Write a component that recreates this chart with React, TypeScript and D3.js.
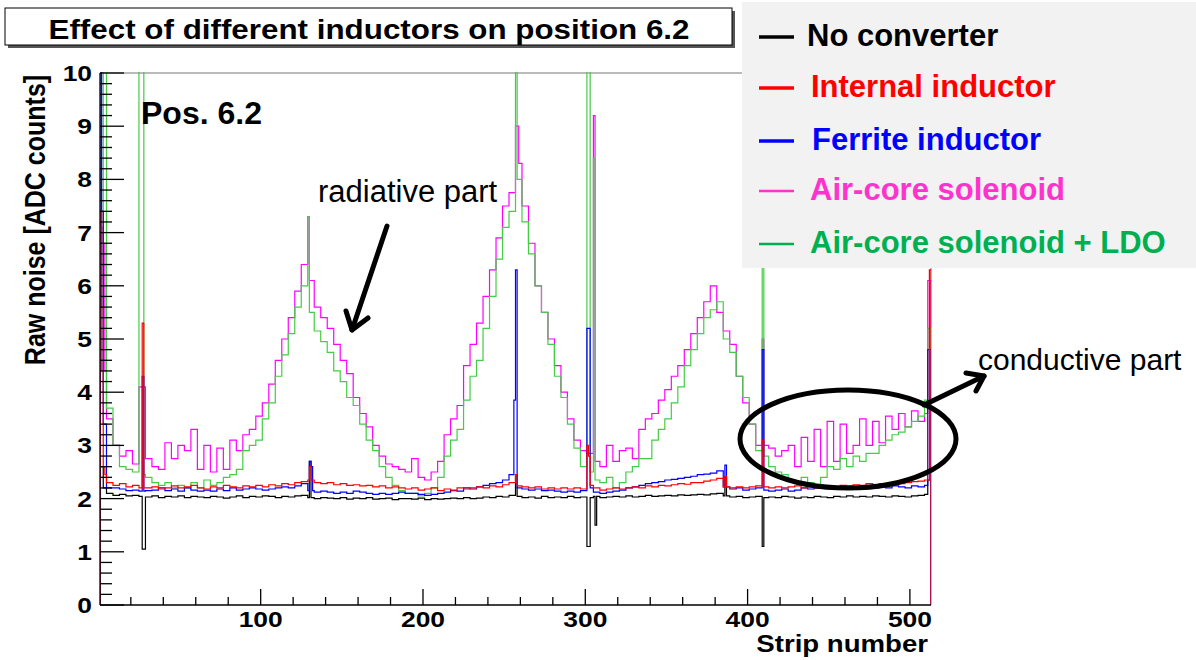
import React from "react";
import * as d3 from "d3";

const W = 1196;
const H = 660;

// raw noise per group of 4 strips (128 groups = 512 strips)
const noConverter = [
  2.2, 2.1, 2.06, 2.08, 2.05, 2.06, 2.04, 2.03, 2.05, 2.02, 2.04, 2.03, 2.05, 2.02, 2.04, 2.03,
  2.02, 2.04, 2.03, 2.01, 2.03, 2.05, 2.02, 2.04, 2.03, 2.05, 2.04, 2.02, 2.04, 2.03, 2.05, 2.06,
  2.02, 2.0, 2.02, 2.01, 2.0, 2.02, 1.99, 2.01, 2.0, 2.02, 1.99, 2.0, 2.01, 1.98, 2.0, 2.0,
  1.99, 2.01, 1.98, 2.0, 1.99, 2.0, 2.01, 2.0, 2.02, 2.0, 2.01, 2.03, 2.02, 2.04, 2.03, 2.06,
  2.04, 2.02, 2.03, 2.01, 2.04, 2.02, 2.03, 2.02, 2.04, 2.02, 2.03, 2.02, 2.04, 2.02, 2.03, 2.04,
  2.03, 2.05, 2.03, 2.04, 2.06, 2.04, 2.05, 2.06, 2.05, 2.07, 2.06, 2.07, 2.08, 2.07, 2.09, 2.1,
  2.05, 2.03, 2.04, 2.02, 2.03, 2.04, 2.02, 2.03, 2.02, 2.04, 2.03, 2.01, 2.03, 2.02, 2.04, 2.03,
  2.02, 2.04, 2.03, 2.05, 2.03, 2.04, 2.03, 2.05, 2.04, 2.03, 2.05, 2.04, 2.03, 2.05, 2.06, 2.08,
];
const internalInductor = [
  2.45, 2.3, 2.25, 2.28, 2.22, 2.25, 2.2, 2.2, 2.22, 2.18, 2.2, 2.24, 2.2, 2.22, 2.25, 2.2,
  2.18, 2.22, 2.2, 2.25, 2.22, 2.2, 2.24, 2.22, 2.25, 2.22, 2.26, 2.24, 2.28, 2.26, 2.3, 2.32,
  2.35, 2.3, 2.28, 2.3, 2.26, 2.28, 2.25, 2.26, 2.24, 2.25, 2.22, 2.24, 2.2, 2.22, 2.2, 2.18,
  2.2, 2.16, 2.18, 2.2, 2.15, 2.18, 2.16, 2.2, 2.18, 2.2, 2.22, 2.2, 2.24, 2.22, 2.26, 2.3,
  2.24, 2.22, 2.2, 2.22, 2.18, 2.2, 2.18, 2.2, 2.18, 2.2, 2.18, 2.25, 2.2, 2.16, 2.18, 2.2,
  2.18, 2.2, 2.22, 2.2, 2.24, 2.22, 2.25, 2.24, 2.26, 2.28, 2.27, 2.3, 2.3, 2.33, 2.35, 2.38,
  2.22, 2.2, 2.22, 2.2, 2.22, 2.24, 2.22, 2.2, 2.22, 2.2, 2.22, 2.24, 2.2, 2.22, 2.2, 2.22,
  2.24, 2.22, 2.25, 2.24, 2.26, 2.25, 2.28, 2.26, 2.28, 2.27, 2.3, 2.28, 2.3, 2.32, 2.33, 2.35,
];
const ferriteInductor = [
  2.25, 2.2, 2.2, 2.18, 2.15, 2.16, 2.14, 2.15, 2.16, 2.2, 2.15, 2.18, 2.14, 2.2, 2.16, 2.14,
  2.16, 2.14, 2.18, 2.15, 2.2, 2.16, 2.18, 2.2, 2.18, 2.16, 2.18, 2.2, 2.22, 2.2, 2.24, 2.28,
  2.15, 2.12, 2.14, 2.12, 2.1, 2.12, 2.1, 2.14, 2.12, 2.1, 2.08, 2.1, 2.08, 2.1, 2.12, 2.1,
  2.1, 2.08, 2.06, 2.08, 2.1, 2.12, 2.15, 2.14, 2.2, 2.18, 2.22, 2.25, 2.28, 2.3, 2.35, 2.45,
  2.2, 2.18, 2.16, 2.18, 2.15, 2.16, 2.14, 2.12, 2.14, 2.12, 2.15, 2.2, 2.12, 2.1, 2.12, 2.14,
  2.16, 2.2, 2.22, 2.25, 2.28, 2.3, 2.32, 2.35, 2.36, 2.38, 2.4, 2.42, 2.45, 2.46, 2.48, 2.52,
  2.22, 2.18, 2.2, 2.16, 2.18, 2.2, 2.16, 2.14, 2.16, 2.18, 2.14, 2.16, 2.2, 2.18, 2.2, 2.22,
  2.2, 2.18, 2.2, 2.22, 2.2, 2.22, 2.24, 2.2, 2.22, 2.2, 2.24, 2.22, 2.2, 2.24, 2.22, 2.25,
];
const airCore = [
  4.4, 3.5, 3.0, 2.8, 2.9, 2.65, 4.1, 2.75, 2.6, 2.55, 3.05, 2.75, 3.0, 2.9, 3.3, 2.55,
  3.0, 2.5, 2.95, 2.55, 3.1, 2.9, 3.2, 3.3, 3.55, 3.8, 4.15, 4.6, 5.0, 5.4, 5.9, 6.4,
  6.1, 5.6, 5.4, 5.2, 4.9, 4.6, 4.35, 3.9, 3.6, 3.35, 3.0, 2.8, 2.65, 2.6, 2.55, 2.5,
  2.75, 2.4, 2.35, 2.5, 2.7, 3.2, 3.5, 3.75, 4.5, 4.9, 5.3, 5.8, 6.3, 6.9, 7.5, 7.75,
  8.3, 7.5, 6.8, 6.0, 5.5, 5.0, 4.5, 4.0, 3.5, 3.1, 2.9, 2.85, 2.7, 2.6, 3.0, 2.7,
  2.9, 2.95, 2.75, 3.3, 3.5, 3.6, 3.85, 4.05, 4.3, 4.5, 4.8, 5.1, 5.4, 5.7, 6.0, 5.5,
  5.15, 4.9, 4.3, 3.8, 3.4, 3.0, 3.0, 2.95, 2.8, 2.9, 3.0, 2.6, 3.15, 2.7, 3.3, 2.6,
  3.45, 2.7, 3.4, 2.85, 3.0, 3.5, 3.0, 3.45, 3.05, 3.55, 3.3, 3.6, 3.35, 3.65, 3.45, 3.6,
];
const airCoreLdo = [
  4.0, 3.7, 3.0, 2.6, 2.55, 2.5, 2.45, 2.4, 2.3, 2.25, 2.3, 2.2, 2.25, 2.2, 2.3, 2.2,
  2.35, 2.25, 2.3, 2.4, 2.45, 2.55, 2.9, 3.0, 3.1, 3.5, 3.8, 4.3, 4.7, 5.1, 5.6, 6.0,
  5.5, 5.15, 4.95, 4.75, 4.4, 4.2, 3.9, 3.75, 3.4, 3.1, 2.9, 2.6, 2.4, 2.25, 2.15, 2.1,
  2.1, 2.05, 2.1, 2.2, 2.4, 2.8, 3.1, 3.3, 3.85, 4.3, 4.6, 5.2, 5.8, 6.5, 7.1, 7.4,
  8.0, 7.2, 6.6, 6.0, 5.5, 4.9, 4.3, 3.9, 3.4, 2.95, 2.6, 2.5, 2.35, 2.3, 2.4, 2.2,
  2.3, 2.5, 2.6, 2.75, 2.75, 3.1, 3.3, 3.5, 3.8, 4.1, 4.5, 4.8, 5.1, 5.4, 5.55, 5.7,
  5.0, 4.75, 4.3, 3.9, 3.4, 2.9, 2.8, 2.6, 2.5, 2.45, 2.35, 2.3, 2.4, 2.3, 2.2, 2.4,
  2.6, 2.55, 2.75, 2.6, 2.8, 2.7, 2.85, 2.85, 3.0, 3.1, 3.2, 3.25, 3.35, 3.45, 3.55, 3.85,
];

// single-strip spikes: [strip, value]
const noConverterSpikes = [[1, 2.6], [2, 2.6], [27, 1.05], [28, 1.05], [130, 2.7], [257, 2.45], [301, 1.1], [302, 1.1], [306, 1.5], [386, 2.4], [409, 1.1], [511, 2.35], [512, 2.35]];
const internalSpikes = [[1, 7.4], [2, 5.6], [3, 2.6], [27, 5.3], [130, 2.6], [257, 2.45], [301, 3.0], [302, 2.8], [386, 2.42], [409, 3.1], [512, 6.3]];
const ferriteSpikes = [[1, 11], [2, 7.4], [3, 3.4], [4, 3.4], [27, 4.3], [130, 2.7], [131, 2.6], [256, 3.85], [257, 6.3], [301, 5.2], [302, 5.2], [386, 2.63], [409, 4.8], [511, 4.8], [512, 4.8]];
const airCoreSpikes = [[2, 7.1], [3, 6.8], [129, 7.3], [257, 9.0], [258, 9.0], [305, 9.2], [409, 5.0], [511, 6.1], [512, 6.1]];
const airCoreLdoSpikes = [[3, 11], [4, 11], [25, 11], [26, 11], [27, 11], [129, 7.3], [257, 11], [301, 11], [302, 11], [305, 8.4], [409, 11], [511, 5.2], [512, 5.2]];

const yTicks = [0, 1, 2, 3, 4, 5, 6, 7, 8, 9, 10];
const xTicks = [100, 200, 300, 400, 500];

const series = [
  { name: "No converter", bins: noConverter, spikes: noConverterSpikes, line: "#000000", key: "#000000", text: "#000000", keyW: 3.5 },
  { name: "Air-core solenoid", bins: airCore, spikes: airCoreSpikes, line: "#ff00ff", key: "#ff33cc", text: "#ff33cc", keyW: 2.5 },
  { name: "Air-core solenoid + LDO", bins: airCoreLdo, spikes: airCoreLdoSpikes, line: "#44cc44", key: "#00b050", text: "#00b050", keyW: 2.5 },
  { name: "Ferrite inductor", bins: ferriteInductor, spikes: ferriteSpikes, line: "#0000ff", key: "#0000ff", text: "#0000ff", keyW: 3.5 },
  { name: "Internal inductor", bins: internalInductor, spikes: internalSpikes, line: "#ff0000", key: "#ff0000", text: "#ff0000", keyW: 3.5 },
];
const legendOrder = ["No converter", "Internal inductor", "Ferrite inductor", "Air-core solenoid", "Air-core solenoid + LDO"];

const left = 100, right = 931, top = 73, bottom = 605;
const x = d3.scaleLinear().domain([1, 513]).range([left, right]);
const y = d3.scaleLinear().domain([0, 10]).range([bottom, top]);

function strips(bins, spikes) {
  const v = [];
  for (let s = 1; s <= 512; s++) v.push(bins[Math.floor((s - 1) / 4)]);
  spikes.forEach(([s, val]) => { v[s - 1] = val; });
  return v;
}

const step = d3.line().x((d) => x(d[0])).y((d) => y(d[1])).curve(d3.curveStepAfter);

function histPath(bins, spikes) {
  const v = strips(bins, spikes);
  const pts = [[1, 0]];
  v.forEach((val, i) => pts.push([i + 1, val]));
  pts.push([513, v[511]]);
  pts.push([513, 0]);
  return step(pts);
}

const rootFont = "Liberation Sans, Arial, sans-serif";

export default function App() {
  const minorX = d3.range(20, 512, 20).filter((t) => t % 100 !== 0);
  const minorY = d3.range(0, 10.01, 0.2).filter((t) => Math.abs(t - Math.round(t)) > 0.01);
  return (
    <svg width={W} height={H} style={{ position: "absolute", left: 0, top: 0, background: "#fff" }} fontFamily={rootFont}>
      <defs>
        <clipPath id="frame">
          <rect x={left} y={top - 1} width={right - left} height={bottom - top + 1} />
        </clipPath>
      </defs>
      <rect width={W} height={H} fill="#fff" />

      {/* title box */}
      <rect x={8} y={11} width={727} height={37} fill="#555" />
      <rect x={5} y={8} width={727} height={37} fill="#fff" stroke="#000" strokeWidth={1} />
      <text transform="translate(369,39) scale(1.12,1)" textAnchor="middle" fontWeight="bold" fontSize={28}>
        Effect of different inductors on position 6.2
      </text>

      {/* frame */}
      <line x1={left} x2={right} y1={top} y2={top} stroke="#777" />
      <line x1={right} x2={right} y1={top} y2={bottom} stroke="#777" />

      <g clipPath="url(#frame)" fill="none" strokeWidth={1.2}>
        {series.map((s) => (
          <path key={s.name} d={histPath(s.bins, s.spikes)} stroke={s.line} />
        ))}
      </g>

      {/* axes */}
      <g stroke="#000" strokeWidth={1.3}>
        <line x1={left} x2={left} y1={top} y2={bottom} />
        <line x1={left} x2={right} y1={bottom} y2={bottom} />
        {yTicks.map((t) => (
          <line key={"yt" + t} x1={left} x2={left + 24} y1={y(t)} y2={y(t)} />
        ))}
        {minorY.map((t) => (
          <line key={"ym" + t} x1={left} x2={left + 12} y1={y(t)} y2={y(t)} />
        ))}
        {xTicks.map((t) => (
          <line key={"xt" + t} x1={x(t)} x2={x(t)} y1={bottom} y2={bottom - 16} />
        ))}
        {minorX.map((t) => (
          <line key={"xm" + t} x1={x(t)} x2={x(t)} y1={bottom} y2={bottom - 8} />
        ))}
      </g>
      <g fontWeight="bold" fontSize={22}>
        {yTicks.map((t) => (
          <text key={"yl" + t} transform={`translate(92,${y(t) + 8}) scale(1.2,1)`} textAnchor="end">{t}</text>
        ))}
        {xTicks.map((t) => (
          <text key={"xl" + t} transform={`translate(${x(t)},627) scale(1.2,1)`} textAnchor="middle">{t}</text>
        ))}
      </g>
      <text transform="translate(928,652) scale(1.2,1)" textAnchor="end" fontWeight="bold" fontSize={23}>Strip number</text>
      <text transform="translate(45,220) scale(1.2,1) rotate(-90)" textAnchor="middle" fontWeight="bold" fontSize={25}>Raw noise [ADC counts]</text>

      <text x={141} y={124} fontWeight="bold" fontSize={32}>Pos. 6.2</text>

      {/* annotations */}
      <text x={318} y={202} fontSize={31}>radiative part</text>
      <g stroke="#000" strokeWidth={5} fill="none" strokeLinecap="round" strokeLinejoin="round">
        <line x1={387} y1={226} x2={352} y2={330} />
        <polyline points="346,311 352,330 368,318" />
        <ellipse cx={848} cy={439} rx={108} ry={49} />
        <line x1={924} y1={405} x2={984} y2={376} />
        <polyline points="966,373 984,376 976,391" />
      </g>
      <text x={978} y={370} fontSize={30}>conductive part</text>

      {/* legend */}
      <rect x={742} y={2} width={454} height={266} fill="#f2f2f2" />
      {legendOrder.map((name, i) => {
        const s = series.find((d) => d.name === name);
        const ly = [37, 88, 141, 191, 244][i];
        const tx = [807, 811, 812, 810, 810][i];
        return (
          <g key={name}>
            <line x1={759} x2={794} y1={ly} y2={ly} stroke={s.key} strokeWidth={s.keyW} />
            <text x={tx} y={ly + 9} fill={s.text} fontWeight="bold" fontSize={31}>{name}</text>
          </g>
        );
      })}
    </svg>
  );
}
